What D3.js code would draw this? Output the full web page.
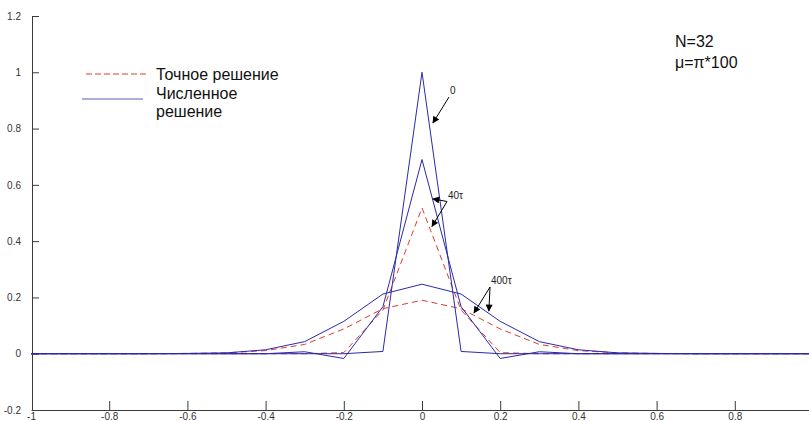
<!DOCTYPE html>
<html>
<head>
<meta charset="utf-8">
<script src="https://cdn.jsdelivr.net/npm/d3@7"></script>
<style>
  html, body { margin: 0; padding: 0; background: #fff; overflow: hidden; }
  svg { display: block; font-family: Arial, 'Liberation Sans', sans-serif; }
</style>
</head>
<body>
<div id="chart"></div>
<script>
// grid points (step 0.1)
const xGrid = [-1, -0.9, -0.8, -0.7, -0.6, -0.5, -0.4, -0.3, -0.2, -0.1, 0,
               0.1, 0.2, 0.3, 0.4, 0.5, 0.6, 0.7, 0.8, 0.9, 1];

// exact solution (red dashed) at 40τ and 400τ
const exact40  = [0, 0, 0, 0, 0, 0, 0, 0, 0.004, 0.155, 0.518, 0.155, 0.004, 0, 0, 0, 0, 0, 0, 0, 0];
const exact400 = [0, 0, 0, 0, 0.001, 0.003, 0.011, 0.033, 0.088, 0.16, 0.19, 0.16, 0.088, 0.033, 0.011, 0.003, 0.001, 0, 0, 0, 0];

// numerical solution (blue) at 0, 40τ, 400τ
const num0   = [0, 0, 0, 0, 0, 0, 0, 0, 0, 0.008, 1, 0.008, 0, 0, 0, 0, 0, 0, 0, 0, 0];
const num40  = [0, 0, 0, 0, 0, 0, 0, 0.007, -0.017, 0.167, 0.69, 0.167, -0.017, 0.007, 0, 0, 0, 0, 0, 0, 0];
const num400 = [0, 0, 0, 0, 0.001, 0.003, 0.014, 0.043, 0.115, 0.212, 0.247, 0.212, 0.115, 0.043, 0.014, 0.003, 0.001, 0, 0, 0, 0];

// the tick at 1 falls just outside the picture, so it is left out
const xTicks = [-1, -0.8, -0.6, -0.4, -0.2, 0, 0.2, 0.4, 0.6, 0.8];
const yTicks = [-0.2, 0, 0.2, 0.4, 0.6, 0.8, 1, 1.2];

const legendLabels = ['Точное решение', 'Численное', 'решение'];
const infoLines = ['N=32', 'μ=π*100'];

// annotations: label position and arrow targets, in data units
const annotations = [
  { text: '0',    at: [0.0716, 0.923], from: [0.069, 0.912], to: [[0.028, 0.820]] },
  { text: '40τ',  at: [0.0665, 0.548], from: [0.064, 0.541], to: [[0.028, 0.550], [0.0256, 0.452]] },
  { text: '400τ', at: [0.1765, 0.246], from: [0.174, 0.237], to: [[0.133, 0.145], [0.171, 0.152]] }
];

const width = 809, height = 421;
const blue = '#2a2aa8';
const red = '#dd3b35';
const axisColor = '#3a3a3a';

const x = d3.scaleLinear().domain([-1, 1]).range([31, 813]);
const y = d3.scaleLinear().domain([-0.2, 1.2]).range([410, 16]);

const svg = d3.select('#chart').append('svg')
  .attr('width', width)
  .attr('height', height);

svg.append('defs').append('marker')
  .attr('id', 'head')
  .attr('viewBox', '0 0 10 10')
  .attr('refX', 9)
  .attr('refY', 5)
  .attr('markerWidth', 9)
  .attr('markerHeight', 7)
  .attr('markerUnits', 'userSpaceOnUse')
  .attr('orient', 'auto')
  .append('path')
  .attr('d', 'M0,0 L10,5 L0,10 Z')
  .attr('fill', '#000');

// axes (plain hyphen minus like the original)
const fmt = d => String(d);
const xAxis = d3.axisBottom(x).tickValues(xTicks).tickSizeInner(-9).tickSizeOuter(0)
  .tickPadding(3).tickFormat(fmt);
const yAxis = d3.axisLeft(y).tickValues(yTicks).tickSizeInner(-7).tickSizeOuter(0)
  .tickPadding(11).tickFormat(fmt);

const gx = svg.append('g').attr('transform', `translate(0,${y(-0.2)})`).call(xAxis);
const gy = svg.append('g').attr('transform', `translate(${x(-1) + 1},0)`).call(yAxis);

[gx, gy].forEach(g => {
  g.selectAll('path.domain').attr('stroke', axisColor).attr('stroke-width', 1);
  g.selectAll('.tick line').attr('stroke', axisColor);
  g.selectAll('.tick text')
    .attr('fill', '#333')
    .style('font-size', '10px')
    .style('font-family', "Arial, 'Liberation Sans', sans-serif");
});
gx.selectAll('.tick').filter(d => d === -1).select('line').remove();

// curves
const line = d3.line().x((d, i) => x(xGrid[i])).y(d => y(d));

svg.append('defs').append('clipPath').attr('id', 'plot')
  .append('rect').attr('x', x(-1)).attr('y', 0).attr('width', width).attr('height', y(-0.2));

const plot = svg.append('g').attr('clip-path', 'url(#plot)');

[exact40, exact400].forEach(s => {
  plot.append('path')
    .datum(s)
    .attr('d', line)
    .attr('fill', 'none')
    .attr('stroke', red)
    .attr('stroke-width', 1)
    .attr('stroke-dasharray', '6,4');
});

[num0, num40, num400].forEach(s => {
  plot.append('path')
    .datum(s)
    .attr('d', line)
    .attr('fill', 'none')
    .attr('stroke', blue)
    .attr('stroke-width', 1);
});

// legend
svg.append('line')
  .attr('x1', 86).attr('x2', 148).attr('y1', 74).attr('y2', 74)
  .attr('stroke', red).attr('stroke-width', 1).attr('stroke-dasharray', '6,3');
svg.append('line')
  .attr('x1', 82).attr('x2', 143).attr('y1', 99).attr('y2', 99)
  .attr('stroke', '#5a5ab4').attr('stroke-width', 1);

svg.selectAll('text.legend')
  .data(legendLabels)
  .join('text')
  .attr('class', 'legend')
  .attr('x', 156)
  .attr('y', (d, i) => [80, 99, 117][i])
  .style('font-size', '16px')
  .attr('fill', '#111')
  .text(d => d);

// N / mu block
svg.selectAll('text.info')
  .data(infoLines)
  .join('text')
  .attr('class', 'info')
  .attr('x', 675)
  .attr('y', (d, i) => 47 + i * 21)
  .style('font-size', '16px')
  .attr('fill', '#111')
  .text(d => d);

// annotations with arrows
annotations.forEach(a => {
  svg.append('text')
    .attr('x', x(a.at[0]))
    .attr('y', y(a.at[1]))
    .style('font-size', '10px')
    .attr('fill', '#222')
    .text(a.text);
  a.to.forEach(t => {
    svg.append('line')
      .attr('x1', x(a.from[0])).attr('y1', y(a.from[1]))
      .attr('x2', x(t[0])).attr('y2', y(t[1]))
      .attr('stroke', '#000')
      .attr('stroke-width', 1)
      .attr('marker-end', 'url(#head)');
  });
});
</script>
</body>
</html>
